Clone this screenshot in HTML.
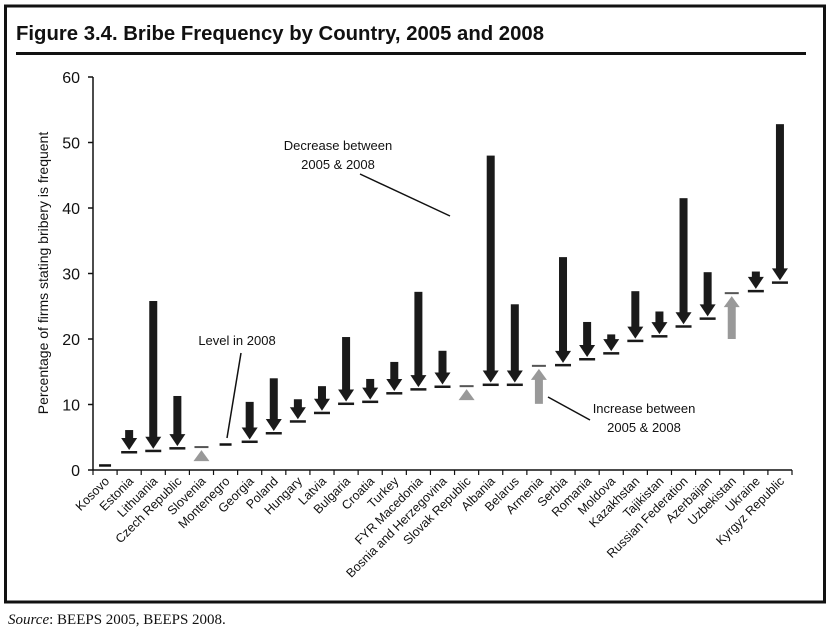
<!DOCTYPE html>
<html><head><meta charset="utf-8"><style>
body{margin:0;background:#fff;width:830px;height:629px;overflow:hidden}
svg{display:block}
text{font-family:"Liberation Sans",Arial,sans-serif;fill:#111}
</style></head><body>
<svg id="chart" width="830" height="629">
<rect x="5.5" y="6" width="819" height="596" fill="none" stroke="#111" stroke-width="3"/>
<text x="16" y="40" font-size="20" font-weight="bold" textLength="528" lengthAdjust="spacingAndGlyphs">Figure 3.4. Bribe Frequency by Country, 2005 and 2008</text>
<rect x="16" y="52" width="790" height="3" fill="#111"/>
<text x="8" y="624" font-size="15" style="font-family:'Liberation Serif',serif"><tspan font-style="italic">Source</tspan>: BEEPS 2005, BEEPS 2008.</text>
<g id="plot"></g>
</svg>
<script>
const countries=["Kosovo","Estonia","Lithuania","Czech Republic","Slovenia","Montenegro","Georgia","Poland","Hungary","Latvia","Bulgaria","Croatia","Turkey","FYR Macedonia","Bosnia and Herzegovina","Slovak Republic","Albania","Belarus","Armenia","Serbia","Romania","Moldova","Kazakhstan","Tajikistan","Russian Federation","Azerbaijan","Uzbekistan","Ukraine","Kyrgyz Republic"];
const v2005=[null,6.1,25.8,11.3,1.7,null,10.4,14.0,10.8,12.8,20.3,13.9,16.5,27.2,18.2,11.5,48.0,25.3,10.1,32.5,22.6,20.7,27.3,24.2,41.5,30.2,20.0,30.3,52.8];
const v2008=[0.7,2.9,3.1,3.5,3.5,3.9,4.5,5.8,7.6,8.9,10.3,10.6,11.9,12.5,12.9,12.8,13.2,13.2,15.9,16.2,17.1,18.0,19.9,20.6,22.1,23.3,27.0,27.5,28.8];
const yTicks=[0,10,20,30,40,50,60];
const NS="http://www.w3.org/2000/svg";
const g=document.getElementById("plot");
const X0=93,X1=792,Y0=470,Y1=77;
const step=(X1-X0)/countries.length;
const xc=i=>X0+step*(i+0.5);
const y=v=>Y0-(v/60)*(Y0-Y1);
function mk(tag,attrs,parent){const e=document.createElementNS(NS,tag);for(const k in attrs)e.setAttribute(k,attrs[k]);(parent||g).appendChild(e);return e;}
let e=mk("line",{x1:X0,y1:Y1,x2:X0,y2:Y0,stroke:"#111","stroke-width":1.5});


e=mk("line",{x1:X0,y1:Y0,x2:X1,y2:Y0,stroke:"#111","stroke-width":1.5});


yTicks.forEach(t=>{
  let l=mk("line",{x1:X0-5,y1:y(t),x2:X0,y2:y(t),stroke:"#111","stroke-width":1.5});
  
  
  let tx=mk("text",{x:X0-13,y:y(t)+6,"text-anchor":"end","font-size":16});
  tx.textContent=t;
  
  
});
for(let i=0;i<=countries.length;i++){
  let l=mk("line",{x1:X0+step*i,y1:Y0,x2:X0+step*i,y2:Y0+5,stroke:"#111","stroke-width":1.2});
  
  
}
let yt=mk("text",{transform:"translate(48,273) rotate(-90)","text-anchor":"middle","font-size":14});
yt.textContent="Percentage of firms stating bribery is frequent";


countries.forEach((c,i)=>{
  const cx=xc(i);
  let t=mk("text",{transform:`translate(${cx+5},${Y0+12}) rotate(-45)`,"text-anchor":"end","font-size":12.5});
  t.textContent=c;
  
  
  const a=v2005[i],b=v2008[i];
  const grp=mk("g",{});
  
  
  const yb=y(b);
  if(a===null){
    mk("rect",{x:cx-6,y:yb-1.2,width:12,height:2.5,fill:"#111"},grp);
    return;
  }
  const ya=y(a);
  if(a>b){
    mk("rect",{x:cx-4,y:ya,width:8,height:Math.max(0,yb-12-ya),fill:"#1a1a1a"},grp);
    mk("polygon",{points:`${cx-8},${yb-13} ${cx+8},${yb-13} ${cx},${yb-1}`,fill:"#1a1a1a"},grp);
    mk("rect",{x:cx-8,y:yb,width:16,height:2.5,fill:"#1a1a1a"},grp);
  }else{
    mk("rect",{x:cx-4,y:yb+13,width:8,height:Math.max(0,ya-yb-13),fill:"#999"},grp);
    mk("polygon",{points:`${cx-8},${yb+14} ${cx+8},${yb+14} ${cx},${yb+3}`,fill:"#999"},grp);
    mk("rect",{x:cx-7,y:yb-1,width:14,height:2,fill:"#555"},grp);
  }
});
function ann(lines,x,y0,name){lines.forEach((s,k)=>{let t=mk("text",{x:x,y:y0+k*19,"text-anchor":"middle","font-size":13});t.textContent=s;});}
ann(["Decrease between","2005 & 2008"],338,150,"annotation-decrease");
ann(["Level in 2008"],237,345,"annotation-level-2008");
ann(["Increase between","2005 & 2008"],644,413,"annotation-increase");
[[360,174,450,216],[241,353,227,438],[548,397,590,420]].forEach(p=>{
  let l=mk("line",{x1:p[0],y1:p[1],x2:p[2],y2:p[3],stroke:"#111","stroke-width":1.5});
  
  
});
</script>
</body></html>
